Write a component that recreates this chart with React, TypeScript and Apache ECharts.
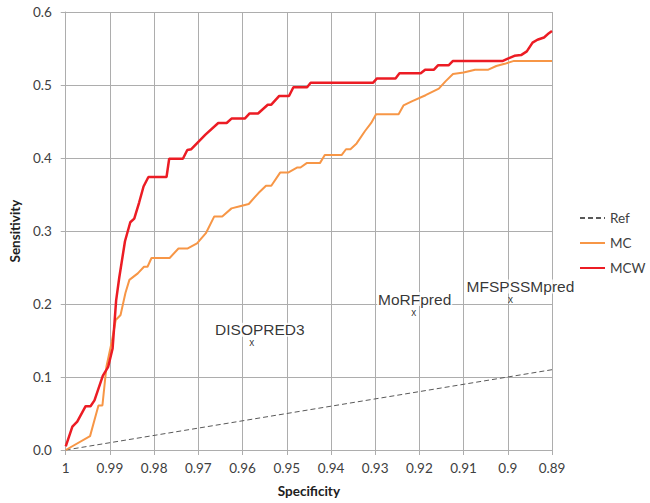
import React, { useEffect, useRef } from "react";
import * as echarts from "echarts";

// Specificity (x) and sensitivity (y) for each curve
const mcwSpec = [1.0, 0.9985, 0.9974, 0.9955, 0.9944, 0.9935, 0.9916, 0.9904, 0.9894, 0.9886, 0.9879, 0.9866, 0.9854, 0.9845, 0.9834, 0.9824, 0.9813, 0.9772, 0.9766, 0.9735, 0.9725, 0.9716, 0.9684, 0.9655, 0.9636, 0.9625, 0.9595, 0.9584, 0.9565, 0.9543, 0.9535, 0.9517, 0.9495, 0.9485, 0.9454, 0.9446, 0.9305, 0.9296, 0.9254, 0.9245, 0.9197, 0.9187, 0.9167, 0.9158, 0.9134, 0.9124, 0.9011, 0.9, 0.8985, 0.897, 0.8957, 0.8944, 0.8933, 0.8918, 0.8907, 0.89];
const mcwSens = [0.005, 0.032, 0.039, 0.06, 0.06, 0.068, 0.102, 0.114, 0.139, 0.205, 0.236, 0.286, 0.312, 0.317, 0.339, 0.361, 0.374, 0.374, 0.399, 0.399, 0.411, 0.412, 0.432, 0.448, 0.448, 0.454, 0.454, 0.461, 0.461, 0.473, 0.473, 0.485, 0.485, 0.497, 0.497, 0.503, 0.503, 0.509, 0.509, 0.516, 0.516, 0.521, 0.521, 0.527, 0.527, 0.533, 0.533, 0.536, 0.54, 0.541, 0.546, 0.558, 0.562, 0.565, 0.571, 0.574];

const mcSpec = [1.0, 0.9945, 0.9926, 0.9917, 0.9908, 0.9896, 0.9887, 0.9876, 0.9865, 0.9856, 0.9837, 0.9823, 0.9815, 0.9806, 0.9765, 0.9745, 0.9725, 0.9703, 0.9683, 0.9664, 0.9646, 0.9625, 0.9606, 0.9586, 0.9564, 0.9547, 0.9535, 0.9515, 0.9497, 0.9476, 0.9469, 0.9455, 0.9425, 0.9414, 0.9376, 0.9366, 0.9356, 0.9342, 0.9323, 0.9309, 0.9298, 0.9247, 0.9236, 0.9216, 0.9186, 0.9156, 0.9141, 0.9124, 0.91, 0.9074, 0.9044, 0.9026, 0.9007, 0.8986, 0.89];
const mcSens = [0.0, 0.019, 0.061, 0.061, 0.114, 0.148, 0.178, 0.185, 0.215, 0.233, 0.242, 0.251, 0.251, 0.263, 0.263, 0.276, 0.276, 0.283, 0.297, 0.32, 0.32, 0.331, 0.334, 0.337, 0.352, 0.362, 0.362, 0.38, 0.38, 0.387, 0.387, 0.393, 0.393, 0.404, 0.404, 0.412, 0.412, 0.42, 0.437, 0.448, 0.46, 0.46, 0.472, 0.478, 0.486, 0.495, 0.505, 0.515, 0.517, 0.521, 0.521, 0.526, 0.529, 0.533, 0.533];

const refSpec = [1.0, 0.89];
const refSens = [0.0, 0.11];

const toolNames = ["DISOPRED3", "MoRFpred", "MFSPSSMpred"];
const toolSpec = [0.9579, 0.9213, 0.8994];
const toolSens = [0.147, 0.189, 0.206];

const nameOffsets = [[8, -13], [1, -13], [10, -13]];

const zip = (xs: number[], ys: number[]) => xs.map((x, i) => [x, ys[i]]);

export default function App() {
  const ref = useRef<HTMLDivElement>(null);
  useEffect(() => {
    document.body.style.margin = "0";
    const chart = echarts.init(ref.current!, null, { renderer: "svg" });
    const gridColor = "#adadad";
    const labelFont = { fontFamily: "Lato", fontSize: 13.5, color: "#404040" };
    chart.setOption({
      animation: false,
      grid: { left: 58.6, right: 98, top: 12, bottom: 53 },
      legend: {
        data: ["Ref", "MC", "MCW"],
        orient: "vertical",
        left: 579,
        top: 211,
        padding: 0,
        itemWidth: 25,
        itemHeight: 14,
        itemGap: 11,
        itemStyle: { opacity: 0 },
        textStyle: { fontFamily: "Lato", fontSize: 13.5, color: "#404040" },
      },
      xAxis: {
        type: "value",
        inverse: true,
        min: 0.89,
        max: 1,
        interval: 0.01,
        name: "Specificity",
        nameLocation: "middle",
        nameGap: 34,
        nameTextStyle: { fontFamily: "Lato", fontSize: 13.5, fontWeight: "bold", color: "#202020" },
        axisLine: { lineStyle: { color: gridColor } },
        axisTick: { show: true, length: 5, lineStyle: { color: gridColor } },
        splitLine: { show: true, lineStyle: { color: gridColor } },
        axisLabel: {
          ...labelFont,
          margin: 11,
          formatter: (v: number) => String(+v.toFixed(2)),
        },
      },
      yAxis: {
        type: "value",
        min: 0,
        max: 0.6,
        interval: 0.1,
        name: "Sensitivity",
        nameLocation: "middle",
        nameGap: 43,
        nameTextStyle: { fontFamily: "Lato", fontSize: 13.5, fontWeight: "bold", color: "#202020" },
        axisLine: { show: true, lineStyle: { color: gridColor } },
        axisTick: { show: true, length: 5, lineStyle: { color: gridColor } },
        splitLine: { show: true, lineStyle: { color: gridColor } },
        axisLabel: {
          ...labelFont,
          margin: 14,
          formatter: (v: number) => v.toFixed(1),
        },
      },
      series: [
        {
          name: "Ref",
          type: "line",
          data: zip(refSpec, refSens),
          symbol: "none",
          lineStyle: { color: "#595959", width: 1, type: [5, 3] },
          itemStyle: { color: "#595959" },
          z: 3,
        },
        {
          name: "MC",
          type: "line",
          data: zip(mcSpec, mcSens),
          symbol: "none",
          lineStyle: { color: "#f79646", width: 2 },
          itemStyle: { color: "#f79646" },
          z: 4,
        },
        {
          name: "MCW",
          type: "line",
          data: zip(mcwSpec, mcwSens),
          symbol: "none",
          lineStyle: { color: "#ec1c24", width: 2.5 },
          itemStyle: { color: "#ec1c24" },
          z: 5,
        },
        {
          name: "toolsMark",
          type: "scatter",
          data: zip(toolSpec, toolSens),
          symbolSize: 1,
          itemStyle: { color: "rgba(0,0,0,0)" },
          label: {
            show: true,
            position: "inside",
            formatter: "x",
            fontFamily: "Liberation Sans",
            fontSize: 10,
            lineHeight: 8,
            color: "#000",
          },
          z: 6,
        },
        {
          name: "toolsName",
          type: "scatter",
          data: toolNames.map((n, i) => ({
            name: n,
            value: [toolSpec[i], toolSens[i]],
            label: { offset: nameOffsets[i] },
          })),
          symbolSize: 1,
          itemStyle: { color: "rgba(0,0,0,0)" },
          label: {
            show: true,
            position: "inside",
            formatter: "{b}",
            fontFamily: "Liberation Sans",
            fontSize: 15.5,
            lineHeight: 14,
            color: "#000",
            backgroundColor: "#fff",
            padding: [0, 1],
          },
          z: 6,
        },
      ],
    });
    return () => chart.dispose();
  }, []);
  return <div ref={ref} style={{ width: 650, height: 503 }} />;
}
